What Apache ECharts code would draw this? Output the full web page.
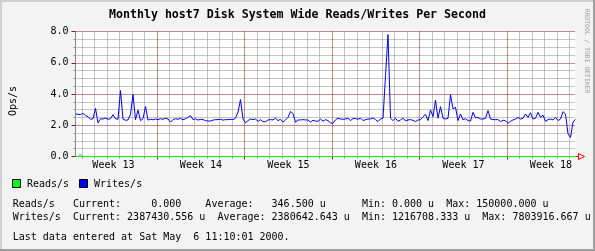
<!DOCTYPE html>
<html><head><meta charset="utf-8">
<script src="https://cdn.jsdelivr.net/npm/echarts@6/dist/echarts.min.js"></script>
<style>html,body{margin:0;padding:0;background:#f3f3f3}#c{width:595px;height:251px}</style>
</head><body><div id="c"></div>
<script>
const chartTitle = 'Monthly host7 Disk System Wide Reads/Writes Per Second';
const yAxisName = 'Ops/s';
const watermark = 'RRDTOOL / TOBI OETIKER';
const yTickLabels = ['0.0', '2.0', '4.0', '6.0', '8.0'];
const weekLabels = ['Week 13', 'Week 14', 'Week 15', 'Week 16', 'Week 17', 'Week 18'];
const sampleStepDays = 0.2;       // spacing of samples on the time axis (days)
const spanDays = 40;              // full width of the time axis (days)
const firstMidnightDays = 0.535;  // first day boundary after the start
const firstWeekBoundary = 6.535;  // first week boundary after the start
const legendNames = ['Reads/s', 'Writes/s'];
const statsReads  = 'Reads/s   Current:     0.000    Average:   346.500 u      Min: 0.000 u  Max: 150000.000 u';
const statsWrites = 'Writes/s  Current: 2387430.556 u  Average: 2380642.643 u  Min: 1216708.333 u  Max: 7803916.667 u';
const lastUpdate  = 'Last data entered at Sat May  6 11:10:01 2000.';

const readsValues = [
0,0,0.15,0,0,0,0,0,0,0, 0,0,0,0,0,0,0,0,0,0,
0,0,0,0,0,0,0,0,0,0, 0,0,0,0,0,0,0,0,0,0,
0,0,0,0,0,0,0,0,0,0, 0,0,0,0,0,0,0,0,0,0,
0,0,0,0,0,0,0,0,0,0, 0,0,0,0,0,0,0,0,0,0,
0,0,0,0,0,0,0,0,0,0, 0,0,0,0,0,0,0,0,0,0,
0,0,0,0,0,0,0,0,0,0, 0,0,0,0,0,0,0,0,0,0,
0,0,0,0,0,0,0,0,0,0, 0,0,0,0,0,0,0,0,0,0,
0,0,0,0,0,0,0,0,0,0, 0,0,0,0,0,0,0,0,0,0,
0,0,0,0,0,0,0,0,0,0, 0,0,0,0,0,0,0,0,0,0,
0,0,0,0,0,0,0,0,0,0, 0,0,0,0,0,0,0,0,0,0,
0
];
const writesValues = [
2.73,2.70,2.68,2.76,2.62,2.55,2.38,2.42,3.08,2.15,
2.42,2.40,2.46,2.38,2.42,2.68,2.42,2.38,4.22,2.40,
2.32,2.34,2.70,3.97,2.35,2.97,2.30,2.42,3.20,2.33,
2.38,2.35,2.40,2.36,2.42,2.38,2.45,2.40,2.20,2.36,
2.42,2.38,2.45,2.35,2.42,2.50,2.62,2.36,2.42,2.33,
2.38,2.36,2.30,2.27,2.27,2.33,2.36,2.36,2.38,2.33,
2.36,2.36,2.38,2.36,2.45,2.85,3.64,2.40,2.15,2.30,
2.40,2.36,2.40,2.25,2.36,2.23,2.23,2.34,2.36,2.34,
2.45,2.30,2.38,2.20,2.34,2.50,2.88,2.75,2.20,2.34,
2.34,2.36,2.34,2.34,2.20,2.32,2.27,2.25,2.40,2.26,
2.36,2.30,2.15,2.13,2.35,2.45,2.40,2.38,2.40,2.45,
2.30,2.43,2.43,2.38,2.46,2.30,2.36,2.40,2.40,2.47,
2.36,2.24,2.40,2.45,5.17,7.80,2.45,2.30,2.45,2.25,
2.34,2.45,2.28,2.34,2.36,2.32,2.23,2.34,2.36,2.55,
2.70,2.30,2.98,2.55,3.60,2.45,3.19,2.45,2.40,2.45,
3.96,3.05,3.15,2.30,2.72,2.35,2.42,2.30,2.27,2.83,
2.47,2.50,2.40,2.40,2.45,2.94,2.40,2.36,2.36,2.36,
2.23,2.33,2.28,2.13,2.25,2.34,2.40,2.50,2.40,2.45,
2.72,2.50,2.80,2.40,2.45,2.83,2.50,2.65,2.25,2.36,
2.40,2.34,2.50,2.30,2.40,2.87,2.72,1.45,1.22,2.20,
2.38
];

const MONO = 'DejaVu Sans Mono';
const GRID_C = '#8c8c8c', MGRID_C = '#821e1e';

const toPairs = vals => vals.map((v, i) => [i * sampleStepDays, v]);
const dayLines = [];
for (let d = firstMidnightDays; d < spanDays; d += 1) {
  const k = Math.round(d - firstMidnightDays);
  if ((k - Math.round(firstWeekBoundary - firstMidnightDays)) % 7 !== 0) dayLines.push(d);
}
const weekLines = [];
for (let d = firstWeekBoundary; d < spanDays; d += 7) weekLines.push(d);
const weekLabelPos = weekLabels.map((_, i) => firstWeekBoundary - 3.5 + 7 * i);

const G = {left: 75.5, top: 31.5, width: 500, height: 125};

const chart = echarts.init(document.getElementById('c'), null, {renderer: 'canvas'});
const option = {
  animation: false,
  backgroundColor: '#f3f3f3',
  grid: {left: G.left, top: G.top, width: G.width, height: G.height, show: true,
         backgroundColor: '#ffffff', borderWidth: 0, containLabel: false, outerBoundsMode: 'none'},
  xAxis: [
    {type: 'value', min: 0, max: spanDays, position: 'bottom',
     axisLine: {show: true, lineStyle: {color: GRID_C, width: 1}},
     axisTick: {show: true, customValues: dayLines, length: 2, lineStyle: {color: GRID_C}},
     axisLabel: {show: true, customValues: weekLabelPos, margin: 4,
                 fontFamily: MONO, fontSize: 10, color: '#000',
                 formatter: v => weekLabels[Math.round((v - weekLabelPos[0]) / 7)]},
     splitLine: {show: true, lineStyle: {color: GRID_C, width: 1, type: [1, 1]}}},
    {type: 'value', min: 0, max: spanDays, position: 'bottom', gridIndex: 0,
     axisLine: {show: false}, axisLabel: {show: false},
     axisTick: {show: true, customValues: weekLines, length: 3, lineStyle: {color: MGRID_C}},
     splitLine: {show: true, lineStyle: {color: MGRID_C, width: 1, type: [1, 1]}}}
  ],
  yAxis: {type: 'value', min: 0, max: 8, interval: 2,
    axisLine: {show: true, lineStyle: {color: GRID_C, width: 1}},
    axisTick: {show: true, length: 4, lineStyle: {color: MGRID_C}},
    minorTick: {show: true, splitNumber: 4, length: 2, lineStyle: {color: GRID_C}},
    axisLabel: {margin: 7, fontFamily: MONO, fontSize: 10, color: '#000',
                formatter: v => yTickLabels[Math.round(v / 2)]},
    splitLine: {show: true, lineStyle: {color: MGRID_C, width: 1, type: [1, 1]}},
    minorSplitLine: {show: true, lineStyle: {color: GRID_C, width: 1, type: [1, 1]}}},
  series: [
    {name: legendNames[0], type: 'line', xAxisIndex: 0, data: toPairs(readsValues), showSymbol: false, symbol: 'none',
     lineStyle: {color: '#00ff00', width: 1}, itemStyle: {color: '#00ff00'}, z: 3},
    {name: legendNames[1], type: 'line', xAxisIndex: 0, data: toPairs(writesValues), showSymbol: false, symbol: 'none',
     lineStyle: {color: '#0000ff', width: 1}, itemStyle: {color: '#0000ff'}, z: 4}
  ],
  graphic: [
    {type: 'rect', shape: {x: 0, y: 0, width: 595, height: 2}, style: {fill: '#cfcfcf'}, silent: true},
    {type: 'rect', shape: {x: 0, y: 0, width: 2, height: 251}, style: {fill: '#cfcfcf'}, silent: true},
    {type: 'rect', shape: {x: 593, y: 0, width: 2, height: 251}, style: {fill: '#9e9e9e'}, silent: true},
    {type: 'rect', shape: {x: 0, y: 249, width: 595, height: 2}, style: {fill: '#9e9e9e'}, silent: true},
    {type: 'text', x: 297.5, y: 15, style: {text: chartTitle, font: 'bold 11.6px "DejaVu Sans Mono"', fill: '#000', textAlign: 'center', textVerticalAlign: 'middle'}},
    {type: 'text', x: 13, y: 101, rotation: Math.PI / 2, style: {text: yAxisName, font: '10px "DejaVu Sans Mono"', fill: '#000', textAlign: 'center', textVerticalAlign: 'middle'}},
    {type: 'text', x: 587, y: 51, rotation: -Math.PI / 2, style: {text: watermark, font: '6.4px "DejaVu Sans Mono"', fill: '#9e9e9e', textAlign: 'center', textVerticalAlign: 'middle'}},
    {type: 'polyline', shape: {points: [[575.5, 156.5], [578.5, 156.5]]}, style: {stroke: '#ff0000', lineWidth: 1}},
    {type: 'polygon', shape: {points: [[578.5, 153.5], [584.5, 156.5], [578.5, 159.5]]}, style: {stroke: '#ff0000', fill: 'none', lineWidth: 1}},
    {type: 'rect', shape: {x: 12.5, y: 179.5, width: 8, height: 8}, style: {fill: '#00ff00', stroke: '#000', lineWidth: 1}},
    {type: 'text', x: 27, y: 184, style: {text: legendNames[0], font: '10px "DejaVu Sans Mono"', fill: '#000', textVerticalAlign: 'middle'}},
    {type: 'rect', shape: {x: 79.5, y: 179.5, width: 8, height: 8}, style: {fill: '#0000ff', stroke: '#000', lineWidth: 1}},
    {type: 'text', x: 94, y: 184, style: {text: legendNames[1], font: '10px "DejaVu Sans Mono"', fill: '#000', textVerticalAlign: 'middle'}},
    {type: 'text', x: 12.7, y: 204, style: {text: statsReads, font: '10px "DejaVu Sans Mono"', fill: '#000', textVerticalAlign: 'middle'}},
    {type: 'text', x: 12.7, y: 217, style: {text: statsWrites, font: '10px "DejaVu Sans Mono"', fill: '#000', textVerticalAlign: 'middle'}},
    {type: 'text', x: 12.7, y: 237, style: {text: lastUpdate, font: '10px "DejaVu Sans Mono"', fill: '#000', textVerticalAlign: 'middle'}}
  ]
};
chart.setOption(option);
</script></body></html>
